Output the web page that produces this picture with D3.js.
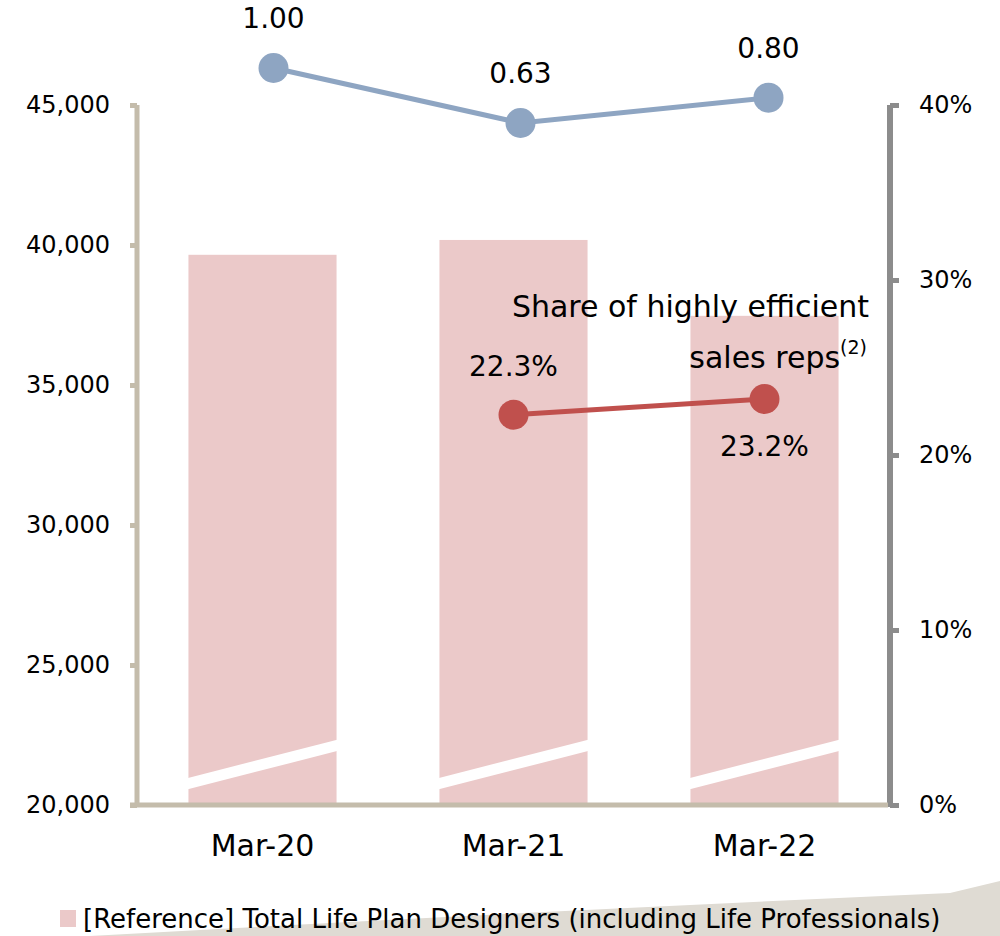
<!DOCTYPE html>
<html>
<head>
  <meta charset="utf-8">
  <title>Life Plan Designers</title>
  <style>
    body { margin: 0; background: #fff; }
    svg { display: block; font-family: "DejaVu Sans", Verdana, sans-serif; }
  </style>
</head>
<body>
  <svg width="1000" height="936"></svg>

  <script src="https://d3js.org/d3.v7.min.js"></script>
  <script>
    // data
    var categories = ['Mar-20', 'Mar-21', 'Mar-22'];
    var designers = [39650, 40180, 37470];            // bars, left axis
    var shareCats = ['Mar-21', 'Mar-22'];
    var shareValues = [22.3, 23.2];                    // red line, right axis (%)
    var indexValues = [1.00, 0.63, 0.80];              // blue line, own hidden scale
    var leftTicks = [20000, 25000, 30000, 35000, 40000, 45000];
    var rightTicks = [0, 10, 20, 30, 40];
    var legendLabel = '[Reference] Total Life Plan Designers (including Life Professionals)';

    var svg = d3.select('svg');
    var FONT = '"DejaVu Sans", Verdana, sans-serif';

    // beige swoosh in the bottom right corner
    svg.append('path')
      .attr('d', 'M90,936 Q520,912 950,893 L1000,881 L1000,936 Z')
      .attr('fill', '#dfdbd3');

    var plotL = 137, plotR = 890, plotT = 105, plotB = 805;

    var x = d3.scaleBand().domain(categories).range([plotL, plotR])
      .paddingInner(0.41).paddingOuter(0.205);
    var yL = d3.scaleLinear().domain([20000, 45000]).range([plotB, plotT]);
    var yR = d3.scaleLinear().domain([0, 40]).range([plotB, plotT]);
    var yI = d3.scaleLinear().domain([0.5, 1.0]).range([142.3, 68]);

    // bars
    svg.selectAll('.bar').data(designers).enter().append('rect')
      .attr('x', function(d, i) { return x(categories[i]); })
      .attr('y', function(d) { return yL(d); })
      .attr('width', x.bandwidth())
      .attr('height', function(d) { return plotB - yL(d); })
      .attr('fill', '#ebc9c9');

    // axis break stripes across the bars
    svg.selectAll('.brk').data(categories).enter().append('path')
      .attr('d', function(c) {
        var x0 = x(c) - 2, x1 = x(c) + x.bandwidth() + 2;
        return 'M' + x0 + ',' + 784 + 'L' + x1 + ',' + 745;
      })
      .attr('stroke', '#fff').attr('stroke-width', 11).attr('fill', 'none');

    // left axis
    var axL = svg.append('g').attr('transform', 'translate(' + plotL + ',0)')
      .call(d3.axisLeft(yL).tickValues(leftTicks).tickSize(7).tickPadding(20)
        .tickFormat(d3.format(',')));
    axL.select('.domain').attr('stroke', '#c4bcab').attr('stroke-width', 5)
      .attr('d', 'M0,' + plotT + 'V' + plotB);
    axL.selectAll('.tick line').attr('stroke', '#c4bcab').attr('stroke-width', 5);
    axL.selectAll('.tick text').attr('font-size', 24).attr('fill', '#000')
      .attr('font-family', FONT);

    // right axis
    var axR = svg.append('g').attr('transform', 'translate(' + plotR + ',0)')
      .call(d3.axisRight(yR).tickValues(rightTicks).tickSize(9).tickPadding(20)
        .tickFormat(function(d) { return d + '%'; }));
    axR.select('.domain').attr('stroke', '#8c8c8c').attr('stroke-width', 6)
      .attr('d', 'M0,' + plotT + 'V' + (plotB + 2));
    axR.selectAll('.tick line').attr('stroke', '#8c8c8c').attr('stroke-width', 5);
    axR.selectAll('.tick text').attr('font-size', 24).attr('fill', '#000')
      .attr('font-family', FONT);

    // baseline / category axis
    var axB = svg.append('g').attr('transform', 'translate(0,' + plotB + ')')
      .call(d3.axisBottom(x).tickSize(0).tickPadding(30));
    axB.select('.domain').attr('stroke', '#c4bcab').attr('stroke-width', 5)
      .attr('d', 'M' + (plotL - 7) + ',0H' + (plotR - 2));
    axB.selectAll('.tick text').attr('font-size', 30).attr('fill', '#000')
      .attr('font-family', FONT);

    // blue index line (points sit slightly right of the band centres)
    var bx = function(i) { return x(categories[i]) + x.bandwidth() / 2 + [11, 7, 4][i]; };
    svg.append('path')
      .datum(indexValues)
      .attr('d', d3.line().x(function(d, i) { return bx(i); }).y(function(d) { return yI(d); }))
      .attr('stroke', '#8ea5c2').attr('stroke-width', 5).attr('fill', 'none');
    svg.selectAll('.ipt').data(indexValues).enter().append('circle')
      .attr('cx', function(d, i) { return bx(i); })
      .attr('cy', function(d) { return yI(d); })
      .attr('r', 15).attr('fill', '#8ea5c2');
    svg.selectAll('.ilab').data(indexValues).enter().append('text')
      .attr('x', function(d, i) { return bx(i); })
      .attr('y', function(d) { return yI(d) - 40; })
      .attr('text-anchor', 'middle').attr('font-size', 28)
      .text(function(d) { return d3.format('.2f')(d); });

    // red share line
    var rx = function(c) { return x(c) + x.bandwidth() / 2; };
    svg.append('path')
      .datum(shareValues)
      .attr('d', d3.line().x(function(d, i) { return rx(shareCats[i]); }).y(function(d) { return yR(d); }))
      .attr('stroke', '#c0504d').attr('stroke-width', 5).attr('fill', 'none');
    svg.selectAll('.spt').data(shareValues).enter().append('circle')
      .attr('cx', function(d, i) { return rx(shareCats[i]); })
      .attr('cy', function(d) { return yR(d); })
      .attr('r', 15).attr('fill', '#c0504d');
    svg.selectAll('.slab').data(shareValues).enter().append('text')
      .attr('x', function(d, i) { return rx(shareCats[i]); })
      .attr('y', function(d, i) { return yR(d) + (i === 0 ? -39 : 57); })
      .attr('text-anchor', 'middle').attr('font-size', 28)
      .text(function(d) { return d.toFixed(1) + '%'; });

    // annotation
    svg.append('text').attr('x', 869).attr('y', 317).attr('text-anchor', 'end')
      .attr('font-size', 30).text('Share of highly efficient');
    var t2 = svg.append('text').attr('x', 867).attr('y', 368).attr('text-anchor', 'end')
      .attr('font-size', 30);
    t2.append('tspan').text('sales reps');
    t2.append('tspan').attr('font-size', 19).attr('dy', -14).text('(2)');

    // legend
    svg.append('rect').attr('x', 60).attr('y', 910).attr('width', 16).attr('height', 17)
      .attr('fill', '#ebc9c9');
    svg.append('text').attr('x', 83).attr('y', 928).attr('font-size', 26).text(legendLabel);
  </script>
</body>
</html>
